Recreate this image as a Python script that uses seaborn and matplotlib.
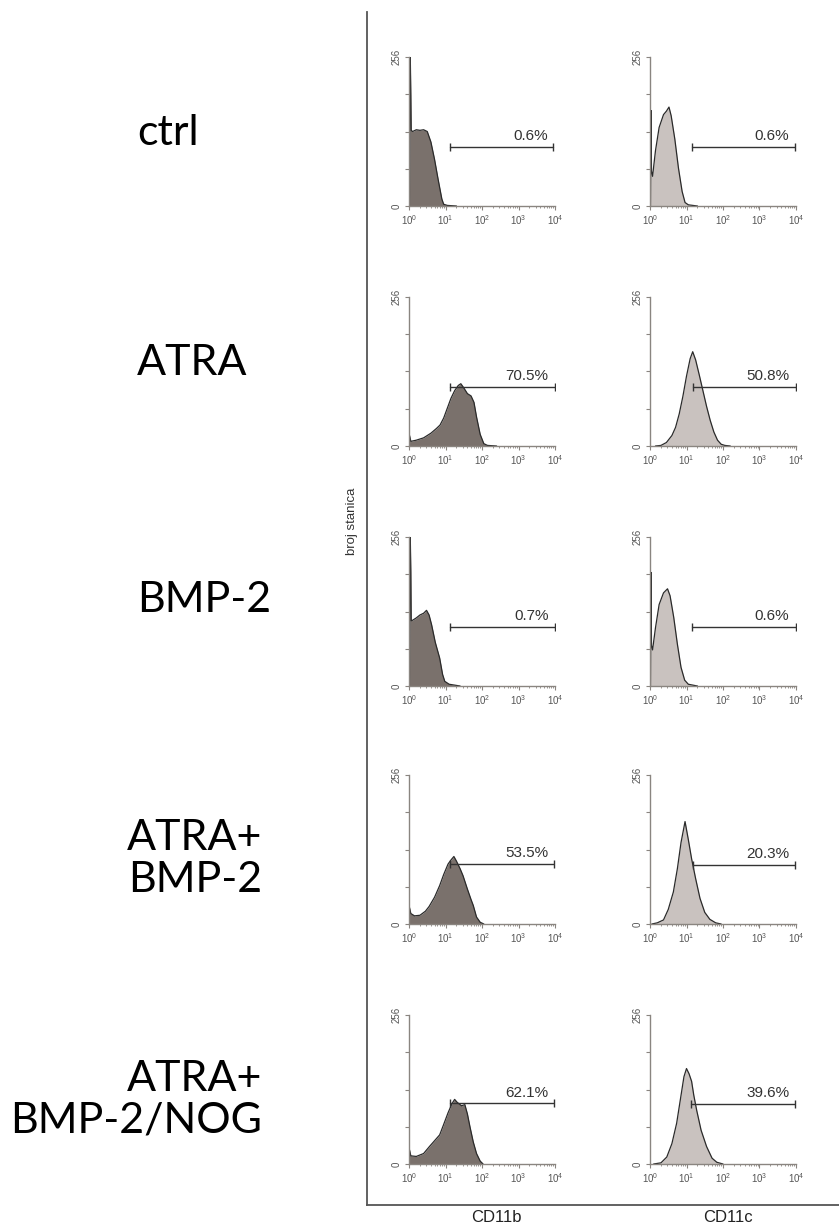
import matplotlib
matplotlib.use('Agg')
import matplotlib.pyplot as plt
import numpy as np
import pandas as pd
import seaborn as sns
from matplotlib.ticker import LogLocator, NullFormatter, FixedLocator

sns.set_style('ticks')
plt.rcParams['font.family'] = ['Liberation Sans', 'DejaVu Sans']
plt.rcParams['mathtext.fontset'] = 'custom'
plt.rcParams['mathtext.rm'] = 'Liberation Sans'
plt.rcParams['mathtext.it'] = 'Liberation Sans:italic'

# uvjeti (redovi) i markeri (stupci)
conditions = ['ctrl', 'ATRA', 'BMP-2', 'ATRA+\nBMP-2', 'ATRA+\nBMP-2/NOG']
markers = ['CD11b', 'CD11c']

# histogrami: log10 intenziteta fluorescencije i broj stanica (0-256)
cd11b_log = [
    [0.0, 0.012, 0.03, 0.035, 0.05, 0.06, 0.1, 0.2, 0.3, 0.4, 0.5, 0.6, 0.7, 0.8, 0.9, 0.95, 1.05, 1.3],
    [0.0, 0.015, 0.05, 0.2, 0.4, 0.6, 0.75, 0.85, 0.95, 1.05, 1.15, 1.25, 1.35, 1.42, 1.5, 1.6, 1.7, 1.78, 1.85, 1.95, 2.05, 2.15, 2.4],
    [0.0, 0.012, 0.03, 0.035, 0.05, 0.06, 0.1, 0.2, 0.3, 0.4, 0.48, 0.55, 0.62, 0.72, 0.84, 0.92, 0.98, 1.1, 1.3, 1.4],
    [0.0, 0.015, 0.05, 0.15, 0.3, 0.45, 0.55, 0.7, 0.84, 0.95, 1.07, 1.15, 1.23, 1.3, 1.4, 1.48, 1.6, 1.7, 1.76, 1.85, 1.95, 2.05],
    [0.0, 0.015, 0.05, 0.2, 0.4, 0.56, 0.7, 0.84, 0.95, 1.07, 1.18, 1.25, 1.32, 1.44, 1.53, 1.6, 1.67, 1.76, 1.85, 1.95, 2.03],
]
cd11b_count = [
    [0, 0, 256, 256, 190, 130, 128, 131, 130, 131, 128, 110, 80, 45, 12, 3, 1, 0],
    [10, 18, 8, 10, 14, 22, 30, 36, 48, 65, 82, 95, 104, 107, 100, 90, 86, 75, 50, 20, 4, 1, 0],
    [0, 0, 256, 256, 195, 112, 113, 117, 122, 125, 130, 122, 105, 75, 48, 20, 8, 3, 1, 0],
    [10, 28, 18, 14, 15, 22, 30, 46, 66, 85, 103, 110, 116, 108, 95, 83, 60, 42, 32, 12, 3, 0],
    [8, 24, 14, 13, 18, 30, 40, 50, 68, 88, 104, 111, 106, 100, 102, 86, 64, 38, 18, 5, 0],
]
cd11c_log = [
    [0.0, 0.012, 0.03, 0.04, 0.07, 0.15, 0.25, 0.37, 0.45, 0.52, 0.58, 0.68, 0.78, 0.88, 0.96, 1.05, 1.3],
    [0.15, 0.3, 0.45, 0.6, 0.7, 0.8, 0.9, 1.0, 1.1, 1.17, 1.25, 1.35, 1.45, 1.55, 1.65, 1.75, 1.85, 1.95, 2.05, 2.2],
    [0.0, 0.012, 0.03, 0.04, 0.07, 0.15, 0.25, 0.37, 0.48, 0.55, 0.65, 0.75, 0.85, 0.95, 1.05, 1.3],
    [0.05, 0.2, 0.37, 0.5, 0.64, 0.75, 0.85, 0.96, 1.05, 1.14, 1.25, 1.37, 1.5, 1.64, 1.8, 1.95],
    [0.1, 0.3, 0.46, 0.6, 0.73, 0.85, 0.93, 1.0, 1.07, 1.14, 1.2, 1.28, 1.4, 1.55, 1.7, 1.83, 2.0],
]
cd11c_count = [
    [0, 0, 164, 60, 51, 95, 135, 157, 163, 170, 155, 115, 65, 25, 6, 2, 0],
    [0, 1, 6, 18, 32, 55, 85, 120, 150, 162, 148, 122, 95, 68, 44, 24, 10, 3, 1, 0],
    [0, 0, 195, 70, 62, 100, 140, 160, 167, 155, 118, 72, 32, 10, 3, 0],
    [0, 2, 7, 25, 55, 95, 140, 176, 145, 112, 78, 44, 20, 8, 2, 0],
    [0, 2, 12, 35, 70, 118, 150, 164, 155, 142, 118, 92, 58, 30, 10, 3, 0],
]

# markeri (gate): pocetak, kraj (log10), visina, postotak
cd11b_gate_start = [1.12, 1.12, 1.13, 1.12, 1.12]
cd11b_gate_end = [3.95, 4.0, 4.0, 3.98, 3.96]
cd11b_gate_height = [101, 101, 102, 103, 104]
cd11b_pct = ['0.6%', '70.5%', '0.7%', '53.5%', '62.1%']
cd11c_gate_start = [1.14, 1.19, 1.15, 1.17, 1.12]
cd11c_gate_end = [3.98, 4.0, 4.0, 3.98, 3.97]
cd11c_gate_height = [101, 102, 102, 102, 103]
cd11c_pct = ['0.6%', '50.8%', '0.6%', '20.3%', '39.6%']

panels = {
    'CD11b': (cd11b_log, cd11b_count, cd11b_gate_start, cd11b_gate_end, cd11b_gate_height, cd11b_pct),
    'CD11c': (cd11c_log, cd11c_count, cd11c_gate_start, cd11c_gate_end, cd11c_gate_height, cd11c_pct),
}
fill_colors = {'CD11b': '#7a716c', 'CD11c': '#c9c2bf'}

W, H = 839, 1229
fig = plt.figure(figsize=(W / 100, H / 100), dpi=100)

def px_axes(x, y, w, h):
    return fig.add_axes([x / W, 1 - (y + h) / H, w / W, h / H])

# okvir
frame = px_axes(367, 12, W - 367, 1205 - 12)
frame.set_xlim(0, 1)
frame.set_ylim(0, 1)
frame.set_xticks([])
frame.set_yticks([])
for s in ['top', 'right']:
    frame.spines[s].set_visible(False)
for s in ['left', 'bottom']:
    frame.spines[s].set_color('#555555')
    frame.spines[s].set_linewidth(1.3)
frame.patch.set_alpha(0)

fig.text(352 / W, 1 - 521 / H, 'broj stanica', rotation=90, ha='center', va='center',
         fontsize=9.5, color='#333333')
fig.text(496 / W, 1 - 1218 / H, 'CD11b', ha='center', va='center', fontsize=12, color='#222222')
fig.text(728 / W, 1 - 1218 / H, 'CD11c', ha='center', va='center', fontsize=12, color='#222222')

row_tops = [57, 297, 537, 775, 1015]
col_left = {'CD11b': 409, 'CD11c': 650}
label_y = [133, 363, 600, 859, 1100]

axis_color = '#8a8580'
for i, cond in enumerate(conditions):
    if '\n' in cond:
        fig.text(262 / W, 1 - label_y[i] / H, cond, ha='right', va='center', multialignment='right',
                 fontsize=31, family=['Lato', 'DejaVu Sans'], linespacing=1.12, color='black')
    else:
        fig.text(137 / W, 1 - label_y[i] / H, cond, ha='left', va='center',
                 fontsize=31, family=['Lato', 'DejaVu Sans'], color='black')

    for m in markers:
        logs, counts, gs, ge, gh, pct = panels[m]
        ax = px_axes(col_left[m], row_tops[i], 146, 149)
        df = pd.DataFrame({'x': np.power(10.0, logs[i]), 'n': counts[i]})
        ax.fill_between(df['x'], 0, df['n'], color=fill_colors[m], linewidth=0)
        sns.lineplot(data=df, x='x', y='n', ax=ax, color='#2a2a2a', linewidth=0.9,
                     estimator=None, sort=False)
        ax.set_xscale('log')
        ax.set_xlim(1, 1e4)
        ax.set_ylim(0, 256)
        ax.set_xlabel('')
        ax.set_ylabel('')
        ax.patch.set_alpha(0)

        # gate
        x0, x1 = 10 ** gs[i], 10 ** ge[i]
        ax.plot([x0, x1], [gh[i], gh[i]], color='#333333', linewidth=1.0,
                marker='|', markersize=6, markeredgewidth=1.0)
        ax.annotate(pct[i], xy=(10 ** 3.82, gh[i]), xytext=(0, 5), textcoords='offset points',
                    ha='right', va='baseline', fontsize=11, color='#333333')

        ax.set_xticks([1, 10, 100, 1000, 10000])
        ax.set_xticklabels([r'$\mathregular{10^{%d}}$' % k for k in range(5)])
        ax.xaxis.set_minor_locator(LogLocator(base=10, subs=np.arange(2, 10), numticks=10))
        ax.xaxis.set_minor_formatter(NullFormatter())
        ax.yaxis.set_major_locator(FixedLocator([0, 64, 128, 192, 256]))
        ax.set_yticklabels(['0', '', '', '', '256'], rotation=90, va='center')
        ax.tick_params(axis='both', which='major', length=3, width=0.8, color=axis_color,
                       labelsize=7, labelcolor='#555555', pad=2)
        ax.tick_params(axis='x', which='minor', length=1.5, width=0.6, color=axis_color)
        sns.despine(ax=ax)
        for s in ['left', 'bottom']:
            ax.spines[s].set_color(axis_color)
            ax.spines[s].set_linewidth(1.0)

plt.savefig('out.png', dpi=100)
